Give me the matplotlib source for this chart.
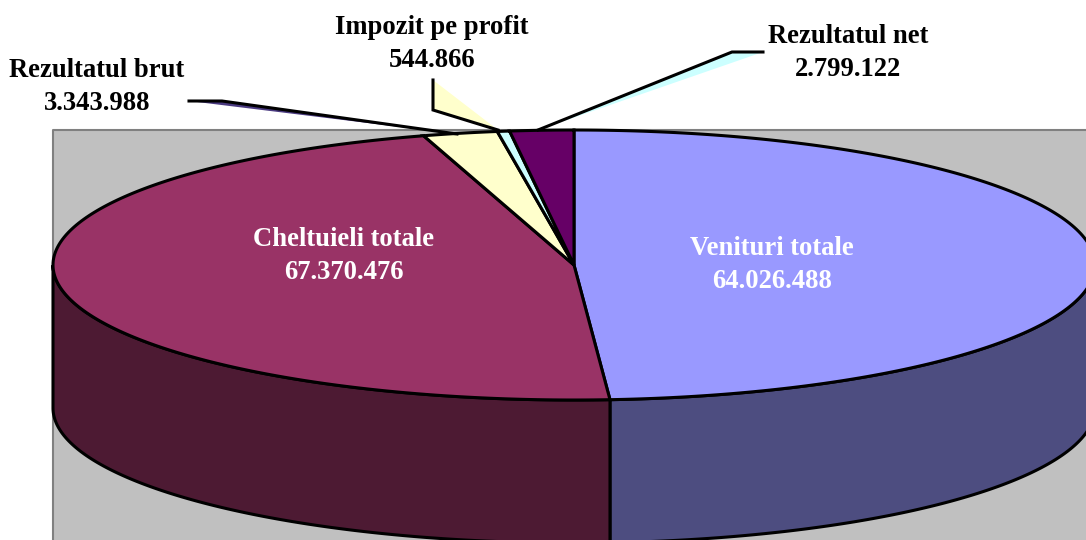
import numpy as np
from matplotlib import pyplot as plt

categories = ['Venituri totale', 'Cheltuieli totale', 'Rezultatul brut', 'Impozit pe profit', 'Rezultatul net']
values = [64026488, 67370476, 3343988, 544866, 2799122]
top_colors = ['#9999FF', '#993366', '#FFFFCC', '#CCFFFF', '#660066']
wall_colors = ['#4D4D80', '#4D1A33']

# pie geometry in pixels
cx, cy = 574, 265
rx, ry = 521, 135
depth = 143


def warp(t):
    # the old excel 3d perspective stretches the front of the pie
    return t + np.radians(9.2) * np.sin(t / 2) ** 1.4


def rim(t, dy=0):
    t = warp(t)
    return cx + rx * np.sin(t), cy - ry * np.cos(t) + dy


fig = plt.figure(figsize=(10.86, 5.4), dpi=100)
ax = fig.add_axes([0, 0, 1, 1])
ax.set_xlim(0, 1086)
ax.set_ylim(540, 0)
ax.axis('off')

# plot area
ax.fill([53, 1086, 1086, 53], [130, 130, 540, 540], color='#C0C0C0', zorder=0)
ax.plot([1086, 53, 53], [130, 130, 540], color='#808080', lw=1.5, zorder=1)

edges = np.cumsum([0] + values) / sum(values) * 2 * np.pi

# side wall, only the first two slices reach the front
for i in range(2):
    t0, t1 = edges[i], edges[i + 1]
    t = np.linspace(t0, t1, 300)
    px, py = rim(t)
    keep = (np.cos(warp(t)) <= 0)
    px, py = px[keep], py[keep]
    wx = np.r_[px, px[::-1]]
    wy = np.r_[py, py[::-1] + depth]
    ax.fill(wx, wy, facecolor=wall_colors[i], edgecolor='black', lw=2.2, zorder=2)

# top of the pie
for i in range(len(values)):
    t = np.linspace(edges[i], edges[i + 1], 200)
    px, py = rim(t)
    ax.fill(np.r_[cx, px], np.r_[cy, py], facecolor=top_colors[i], edgecolor='black',
            lw=2.2, joinstyle='miter', zorder=3)

# leader lines with their coloured wedge
leaders = [
    ([189, 222, 457], [101, 101, 134], '#4A3A80'),
    ([433, 433, 498], [80, 110, 130], '#FFFFCC'),
    ([763, 732, 538], [52, 52, 130], '#CCFFFF'),
]
for lx, ly, c in leaders:
    ax.fill(lx, ly, color=c, lw=0, zorder=4)
    ax.plot(lx, ly, color='black', lw=2.2, solid_joinstyle='miter', zorder=5)

label_pos = [(772, 265, 'white'), (344, 256, 'white'), (97, 87, 'black'), (432, 44, 'black'), (848, 53, 'black')]
for name, v, (x, y, c) in zip(categories, values, label_pos):
    txt = name + '\n' + f'{v:,}'.replace(',', '.')
    ax.text(x, y, txt, ha='center', va='center', color=c, fontsize=19.2, fontweight='bold',
            family='Liberation Serif', linespacing=1.45, zorder=6)

plt.savefig('out.png', dpi=100)
